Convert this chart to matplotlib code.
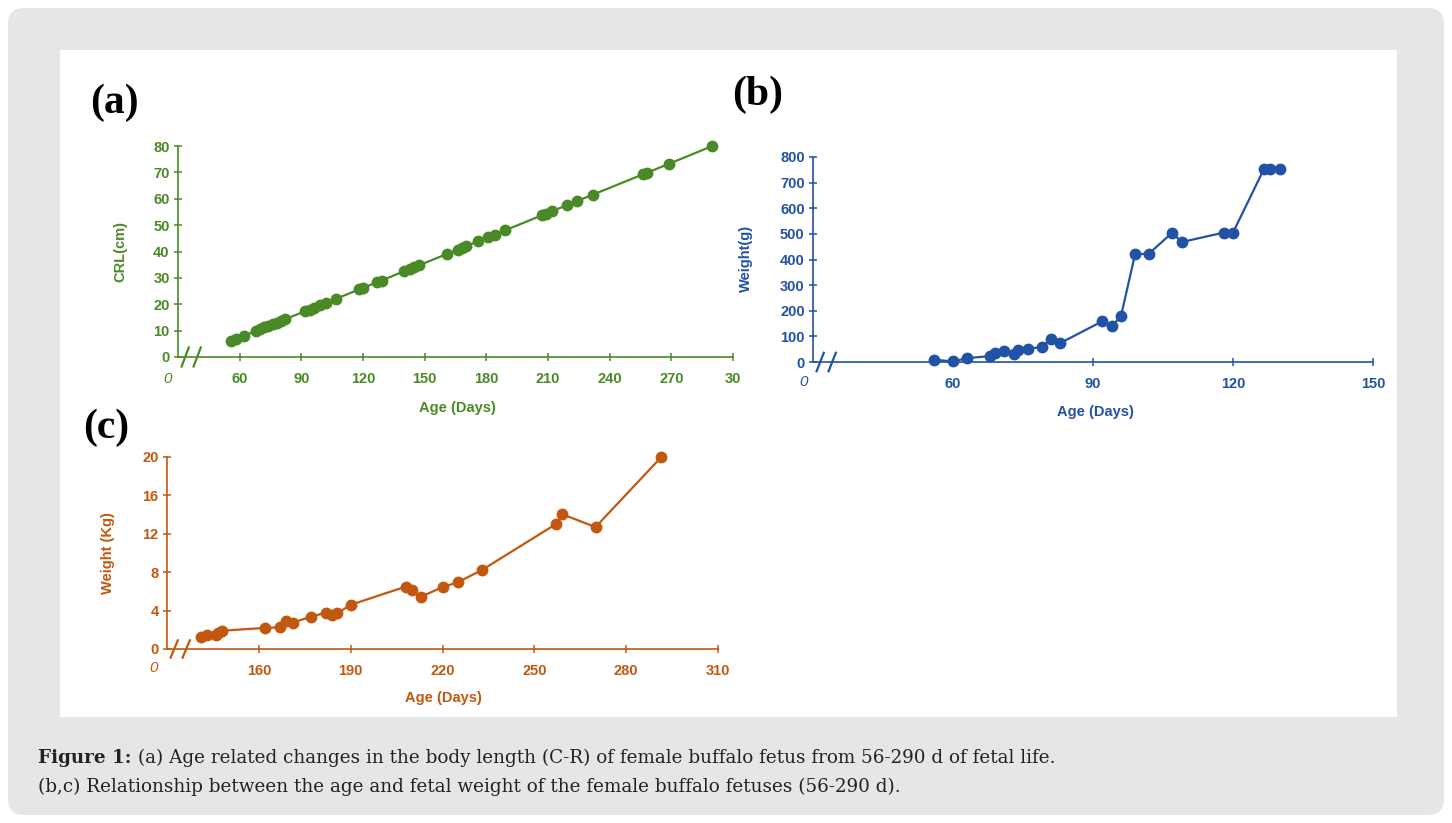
import numpy as np
import matplotlib.pyplot as plt
from matplotlib.patches import FancyBboxPatch, Rectangle

W, H = 1452, 823

# (a) crown-rump length vs age
age_a = [56, 58, 62, 68, 70, 72, 74, 76, 78, 80, 82, 92, 94, 96, 99, 102, 107,
         118, 120, 127, 129, 140, 143, 145, 147, 161, 166, 168, 170, 176, 181,
         184, 189, 207, 209, 212, 219, 224, 232, 256, 258, 269, 290]
crl_a = [6.0, 6.8, 8.0, 10.0, 10.6, 11.2, 11.8, 12.4, 13.0, 13.6, 14.3, 17.4,
         18.0, 18.7, 19.6, 20.5, 22.1, 25.6, 26.2, 28.4, 29.0, 32.5, 33.4, 34.0,
         34.7, 39.1, 40.7, 41.3, 42.0, 43.9, 45.5, 46.4, 48.0, 53.7, 54.3, 55.3,
         57.5, 59.1, 61.6, 69.2, 69.8, 73.3, 80.0]

# (b) weight in g, early fetuses
age_b = [56, 60, 63, 68, 69, 71, 73, 74, 76, 79, 81, 83, 92, 94, 96, 99, 102,
         107, 109, 118, 120, 126.6, 128, 130]
wt_b = [9, 2, 15, 23, 36, 43, 33, 46, 52, 58, 91, 74, 159, 139, 179, 420, 423,
        505, 468, 505, 505, 752, 752, 752]

# (c) weight in kg, older fetuses
age_c = [141, 143, 146, 146.5, 148, 162, 167, 169, 171, 177, 182, 184, 185.5,
         190, 208, 210, 213, 220, 225, 233, 257, 259, 270, 291.5]
wt_c = [1.2, 1.45, 1.5, 1.65, 1.9, 2.2, 2.25, 2.95, 2.75, 3.35, 3.8, 3.5, 3.7,
        4.6, 6.5, 6.1, 5.45, 6.45, 6.95, 8.25, 13.0, 14.05, 12.7, 20.0]

GREEN = '#4a8a26'
BLUE = '#2252a6'
ORANGE = '#c2580f'

fig = plt.figure(figsize=(W / 100, H / 100), dpi=100)
fig.patch.set_facecolor('white')

# background frame
bg = fig.add_axes([0, 0, 1, 1])
bg.set_xlim(0, W)
bg.set_ylim(H, 0)
bg.axis('off')
bg.add_patch(FancyBboxPatch((8, 8), W - 16, H - 16, boxstyle='round,pad=0,rounding_size=16',
                            facecolor='#e6e6e6', edgecolor='none'))
bg.add_patch(Rectangle((60, 50), 1337, 667, facecolor='white', edgecolor='none'))


def px_axes(left, right, top, bottom):
    return fig.add_axes([left / W, 1 - bottom / H, (right - left) / W, (bottom - top) / H])


def style(ax, color, xs, ys, xlim, ylim, xticks, yticks, xlabel, ylabel, lab_px, ylab_px, origin_px):
    ax.plot(xs, ys, '-o', color=color, lw=1.6, markersize=7.5, clip_on=False, zorder=3)
    ax.set_xlim(*xlim)
    ax.set_ylim(*ylim)
    ax.set_xticks(xticks)
    ax.set_yticks(yticks)
    for s in ['top', 'right']:
        ax.spines[s].set_visible(False)
    for s in ['left', 'bottom']:
        ax.spines[s].set_color(color)
        ax.spines[s].set_linewidth(1.2)
    ax.tick_params(axis='both', colors=color, direction='inout', length=6, width=1.1,
                   labelsize=10.5)
    ax.tick_params(axis='x', pad=8)
    ax.tick_params(axis='y', pad=3)
    for t in ax.get_xticklabels() + ax.get_yticklabels():
        t.set_fontfamily('Liberation Sans')
        t.set_fontweight('bold')
    ax.patch.set_alpha(0)
    # axis break marks
    bw = 12 / ax.bbox.width
    for dx in (0.6, 1.6):
        x0 = dx * bw
        ax.plot([x0 - 0.3 * bw, x0 + 0.3 * bw], [-0.045, 0.045], transform=ax.transAxes,
                color=color, lw=1.6, clip_on=False, zorder=4)
    ax.plot([0.75 * bw, 1.45 * bw], [0, 0], transform=ax.transAxes, color='white', lw=3,
            clip_on=False, zorder=2)
    fig.text(lab_px[0] / W, 1 - lab_px[1] / H, xlabel, color=color, fontsize=10.5,
             fontweight='bold', family='Liberation Sans', ha='center', va='center')
    fig.text(ylab_px[0] / W, 1 - ylab_px[1] / H, ylabel, color=color, fontsize=10.5,
             fontweight='bold', family='Liberation Sans', ha='center', va='center',
             rotation=90)
    fig.text(origin_px[0] / W, 1 - origin_px[1] / H, '0', color=color, fontsize=11,
             style='italic', family='Liberation Sans', ha='center', va='center')


ax_a = px_axes(178, 733, 146, 357)
style(ax_a, GREEN, age_a, crl_a, (30, 300), (0, 80), range(60, 301, 30), range(0, 81, 10),
      'Age (Days)', 'CRL(cm)', (457, 408), (120, 252), (168, 379))
ax_a.set_xticklabels(['60', '90', '120', '150', '180', '210', '240', '270', '30'])
for t in ax_a.get_xticklabels():
    t.set_fontfamily('Liberation Sans')
    t.set_fontweight('bold')

ax_b = px_axes(813, 1373, 157, 362)
style(ax_b, BLUE, age_b, wt_b, (30, 150), (0, 800), range(60, 151, 30), range(0, 801, 100),
      'Age (Days)', 'Weight(g)', (1095, 412), (746, 258), (804, 382))

ax_c = px_axes(167, 718, 457, 649)
style(ax_c, ORANGE, age_c, wt_c, (130, 310), (0, 20), range(160, 311, 30), range(0, 21, 4),
      'Age (Days)', 'Weight (Kg)', (443, 698), (108, 553), (154, 668))

# panel letters
for lab, x, y in [('(a)', 114, 103), ('(b)', 758, 95), ('(c)', 106, 428)]:
    fig.text(x / W, 1 - y / H, lab, fontsize=30, fontweight='bold', family='Liberation Serif',
             ha='center', va='center')

# caption
cap_font = dict(fontsize=13.2, family='DejaVu Serif', color='#222222')
t1 = bg.text(38, 763, 'Figure 1:', fontweight='bold', va='baseline', **cap_font)
bg.annotate(' (a) Age related changes in the body length (C-R) of female buffalo fetus from 56-290 d of fetal life.',
            xy=(1, 0), xycoords=t1, va='bottom', **cap_font)
bg.text(38, 792, '(b,c) Relationship between the age and fetal weight of the female buffalo fetuses (56-290 d).',
        va='baseline', **cap_font)

fig.savefig('out.png', dpi=100)
